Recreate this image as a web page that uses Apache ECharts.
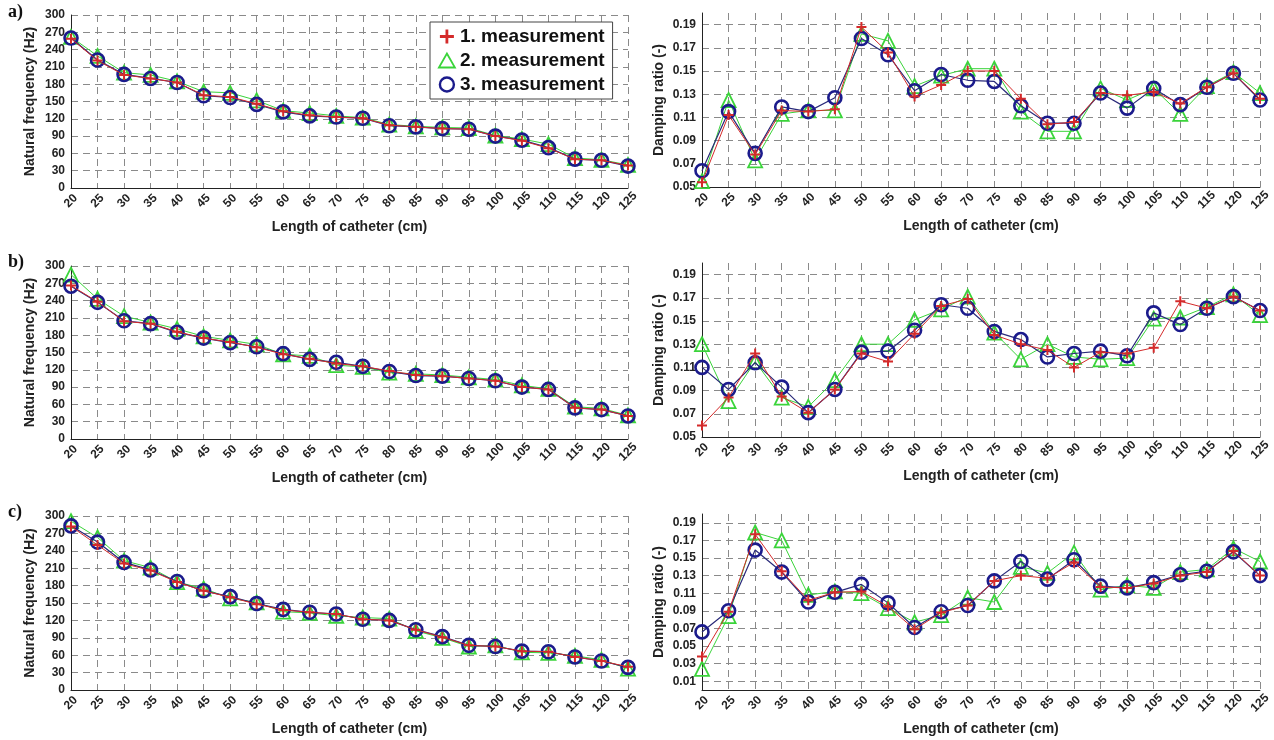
<!DOCTYPE html>
<html>
<head>
<meta charset="utf-8">
<script src="https://cdn.jsdelivr.net/npm/echarts@6/dist/echarts.min.js"></script>
<style>
html,body{margin:0;padding:0;background:#fff;}
#chart{width:1274px;height:740px;}
</style>
</head>
<body>
<div id="chart"></div>
<script>
// ---- data ----
const lengths = [20,25,30,35,40,45,50,55,60,65,70,75,80,85,90,95,100,105,110,115,120,125];
const seriesNames = ['1. measurement','2. measurement','3. measurement'];
const panelLabels = ['a)','b)','c)'];
const freqTicks = [0,30,60,90,120,150,180,210,240,270,300];
const dampTicksAB = [0.05,0.07,0.09,0.11,0.13,0.15,0.17,0.19];
const dampTicksC = [0.01,0.03,0.05,0.07,0.09,0.11,0.13,0.15,0.17,0.19];

const freqA1 = [259,221,196,190,183,161,158,146,133,126,123,121,109,106,103,102,90,82,69,50,48,39];
const freqA2 = [262,229,200,196,185,167,165,152,134,130,125,122,110,107,105,104,91,85,76,52,49,40];
const freqA3 = [260,222,197,190,183,160,157,145,132,125,123,121,108,106,103,102,90,83,70,50,48,38];

const freqB1 = [266,238,204,200,186,175,168,159,147,139,131,126,118,111,109,105,101,90,86,54,51,40];
const freqB2 = [285,243,213,202,191,178,171,164,147,144,128,125,115,113,111,107,103,93,87,56,53,41];
const freqB3 = [265,237,205,200,185,175,167,160,148,138,133,126,117,110,109,105,101,90,86,54,51,40];

const freqC1 = [282,250,218,206,186,171,160,148,138,134,131,122,120,104,91,77,75,67,66,57,50,40];
const freqC2 = [291,263,223,211,186,175,158,151,135,133,128,125,123,102,90,75,77,65,64,59,52,37];
const freqC3 = [283,255,220,207,187,171,161,149,139,134,131,122,120,104,92,77,75,67,66,57,50,39];

const dampA1 = [0.054,0.112,0.078,0.116,0.115,0.117,0.188,0.166,0.128,0.138,0.150,0.150,0.126,0.104,0.106,0.131,0.129,0.132,0.122,0.136,0.148,0.126];
const dampA2 = [0.055,0.125,0.073,0.113,0.116,0.116,0.182,0.176,0.137,0.146,0.152,0.152,0.115,0.098,0.098,0.135,0.125,0.135,0.113,0.137,0.149,0.131];
const dampA3 = [0.064,0.115,0.079,0.119,0.115,0.127,0.178,0.164,0.133,0.147,0.142,0.141,0.120,0.105,0.105,0.131,0.118,0.135,0.121,0.136,0.148,0.125];

const dampB1 = [0.060,0.084,0.122,0.085,0.071,0.091,0.122,0.115,0.139,0.163,0.169,0.138,0.130,0.125,0.110,0.123,0.122,0.127,0.167,0.161,0.171,0.159];
const dampB2 = [0.130,0.081,0.115,0.084,0.076,0.099,0.130,0.130,0.151,0.160,0.171,0.140,0.117,0.130,0.119,0.117,0.118,0.152,0.153,0.162,0.173,0.155];
const dampB3 = [0.110,0.091,0.114,0.093,0.071,0.091,0.123,0.124,0.142,0.164,0.161,0.141,0.134,0.119,0.122,0.124,0.120,0.157,0.147,0.161,0.171,0.159];

const dampC1 = [0.038,0.089,0.177,0.135,0.102,0.111,0.112,0.095,0.069,0.088,0.096,0.124,0.130,0.127,0.145,0.117,0.116,0.121,0.130,0.134,0.158,0.130];
const dampC2 = [0.024,0.084,0.179,0.170,0.108,0.112,0.110,0.093,0.077,0.085,0.105,0.100,0.140,0.133,0.156,0.114,0.119,0.116,0.134,0.137,0.161,0.146];
const dampC3 = [0.066,0.090,0.159,0.134,0.100,0.111,0.120,0.099,0.071,0.089,0.096,0.124,0.146,0.126,0.148,0.118,0.116,0.122,0.131,0.135,0.157,0.130];

// ---- styling ----
const RED = '#d42a2a', GREEN = '#3ad43a', BLUE = '#1b1b8c';
const PLUS = 'path://M4,0 H6 V4 H10 V6 H6 V10 H4 V6 H0 V4 H4 Z';
const FONT = 'Liberation Sans, Arial, sans-serif';
const gridColor = '#8a8a8a';

const grids = [
  {left:71, top:15, width:557, height:173},
  {left:702, top:13, width:558, height:174},
  {left:71, top:266, width:557, height:173},
  {left:702, top:263, width:558, height:174},
  {left:71, top:516, width:557, height:174},
  {left:702, top:514, width:558, height:176}
];

const panels = [
  {freq:[freqA1,freqA2,freqA3], damp:[dampA1,dampA2,dampA3], dTicks:dampTicksAB, dMin:0.05},
  {freq:[freqB1,freqB2,freqB3], damp:[dampB1,dampB2,dampB3], dTicks:dampTicksAB, dMin:0.05},
  {freq:[freqC1,freqC2,freqC3], damp:[dampC1,dampC2,dampC3], dTicks:dampTicksC, dMin:0}
];

const xAxes = [], yAxes = [], series = [];
const axisLine = {show:true, onZero:false, lineStyle:{color:'#222', width:1}};
const splitLine = {show:true, lineStyle:{color:gridColor, type:[7,5], width:1}};

function makeX(gi){
  return {
    type:'category', gridIndex:gi, data:lengths.map(String), boundaryGap:false,
    axisLine: axisLine, axisTick:{show:false},
    axisLabel:{rotate:45, align:'center', verticalAlign:'middle', margin:13, interval:0,
      fontFamily:FONT, fontWeight:'bold', fontSize:12, color:'#222'},
    splitLine: splitLine,
    name:'Length of catheter (cm)', nameLocation:'middle', nameGap:32,
    nameTextStyle:{fontFamily:FONT, fontWeight:'bold', fontSize:14, color:'#222'}
  };
}

function addSeries(gi, arrs){
  const cfg = [
    {symbol:PLUS, size:10, item:{color:RED, borderWidth:0}, line:{color:RED, width:1}, z:4},
    {symbol:'triangle', size:14, item:{color:'rgba(0,0,0,0)', borderColor:GREEN, borderWidth:1.8}, line:{color:GREEN, width:1}, z:2},
    {symbol:'circle', size:13, item:{color:'rgba(0,0,0,0)', borderColor:BLUE, borderWidth:2.6}, line:{color:'#2a2a7a', width:1.2}, z:3}
  ];
  arrs.forEach((arr, k) => {
    series.push({
      type:'line', name:seriesNames[k], xAxisIndex:gi, yAxisIndex:gi,
      data:arr, symbol:cfg[k].symbol, symbolSize:cfg[k].size, showAllSymbol:true,
      itemStyle:cfg[k].item, lineStyle:cfg[k].line, z:cfg[k].z,
      emphasis:{disabled:true}, animation:false
    });
  });
}

panels.forEach((p, r) => {
  const gL = r*2, gR = r*2+1;
  xAxes.push(makeX(gL)); xAxes.push(makeX(gR));
  yAxes.push({
    type:'value', gridIndex:gL, min:0, max:300, interval:30,
    axisLine: axisLine, axisTick:{show:false},
    axisLabel:{fontFamily:FONT, fontWeight:'bold', fontSize:12, color:'#222', margin:6},
    splitLine: splitLine,
    name:'Natural frequency (Hz)', nameLocation:'middle', nameGap:34,
    nameTextStyle:{fontFamily:FONT, fontWeight:'bold', fontSize:14, color:'#222'}
  });
  yAxes.push({
    type:'value', gridIndex:gR, min:p.dMin, max:0.2,
    axisLine: axisLine,
    axisTick:{show:false, customValues:p.dTicks},
    axisLabel:{customValues:p.dTicks, formatter:v => v.toFixed(2),
      fontFamily:FONT, fontWeight:'bold', fontSize:12, color:'#222', margin:6},
    splitLine: splitLine,
    name:'Damping ratio (-)', nameLocation:'middle', nameGap:36,
    nameTextStyle:{fontFamily:FONT, fontWeight:'bold', fontSize:14, color:'#222'}
  });
  addSeries(gL, p.freq);
  addSeries(gR, p.damp);
});

const option = {
  backgroundColor:'#fff',
  animation:false,
  grid: grids.map(g => Object.assign({containLabel:false}, g)),
  xAxis: xAxes,
  yAxis: yAxes,
  series: series,
  legend: {
    left:430, top:22, orient:'vertical', padding:[5,8,5,8], itemGap:5,
    backgroundColor:'#fff', borderColor:'#444', borderWidth:1,
    itemWidth:16, itemHeight:14, selectedMode:false,
    textStyle:{fontFamily:FONT, fontWeight:'bold', fontSize:19, color:'#111'},
    data:[
      {name:seriesNames[0], icon:PLUS, itemStyle:{color:RED, borderWidth:0}},
      {name:seriesNames[1], icon:'triangle', itemStyle:{color:'rgba(0,0,0,0)', borderColor:GREEN, borderWidth:1.8}},
      {name:seriesNames[2], icon:'circle', itemStyle:{color:'rgba(0,0,0,0)', borderColor:BLUE, borderWidth:2.4}}
    ]
  },
  graphic: panelLabels.map((t, i) => ({
    type:'text', left:8, top:[3,253,503][i],
    style:{text:t, font:'bold 18px "Liberation Serif", "Times New Roman", serif', fill:'#111'}
  }))
};

const chart = echarts.init(document.getElementById('chart'), null, {renderer:'canvas'});
chart.setOption(option);
</script>
</body>
</html>
